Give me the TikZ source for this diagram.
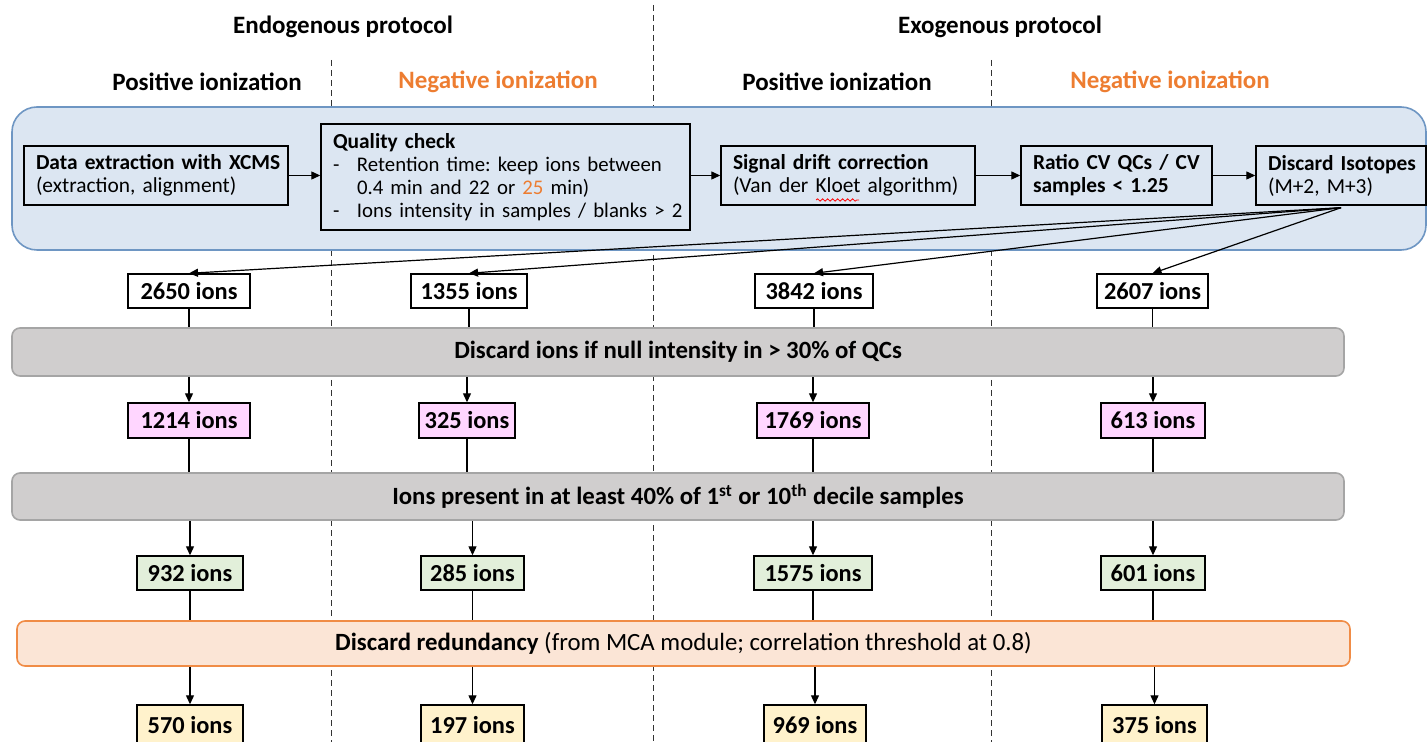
\documentclass[tikz,border=0pt]{standalone}
\usepackage{fontspec}
\setmainfont{Carlito}
\usetikzlibrary{arrows.meta,decorations.pathmorphing}
\definecolor{orng}{RGB}{237,125,49}
\definecolor{bluebg}{RGB}{220,230,242}
\definecolor{blueln}{RGB}{110,150,195}
\definecolor{grayfill}{RGB}{208,206,206}
\definecolor{grayln}{RGB}{165,165,165}
\definecolor{pinkfill}{RGB}{255,214,255}
\definecolor{greenfill}{RGB}{226,239,218}
\definecolor{yellowfill}{RGB}{255,242,204}
\definecolor{peachfill}{RGB}{251,229,214}
\definecolor{peachln}{RGB}{240,140,70}
\frenchspacing
\newcommand\qcfont{\fontsize{10.4}{11.5}\selectfont}
\begin{document}
\begin{tikzpicture}[x=0.5pt,y=-0.5pt,
  hdr/.style={font=\fontsize{12.5}{14}\selectfont\bfseries},
  stepbox/.style={draw=black, line width=0.7pt, align=left, inner xsep=6pt, inner ysep=2pt,
    font=\fontsize{10.7}{11.5}\selectfont, minimum height=29.5pt},
  ion/.style={draw=black, line width=0.7pt, minimum height=17pt, inner sep=0pt,
    font=\fontsize{12.2}{14}\selectfont\bfseries},
  bar/.style={rounded corners=4pt, line width=0.8pt, inner sep=0pt,
    font=\fontsize{12.4}{14}\selectfont},
  conn/.style={line width=0.6pt, black},
  arr/.style={line width=0.6pt, black, -{Triangle[length=4.5pt,width=4pt]}},
  vdash/.style={line width=0.5pt, black!80, dash pattern=on 3pt off 2pt},
  squiggle/.style={red, line width=0.4pt, decorate,
    decoration={snake, amplitude=0.6pt, segment length=2.5pt}}
]
\useasboundingbox (0,0) rectangle (1428,742);

% dashed separators
\draw[vdash] (331,60) -- (331,742);
\draw[vdash] (653,5) -- (653,742);
\draw[vdash] (991,60) -- (991,742);

% headers
\node[hdr] (hEndo) at (343,27) {Endogenous protocol};
\node[hdr] (hExo) at (1000,27) {Exogenous protocol};
\node[hdr] (h1) at (207,82) {Positive ionization};
\node[hdr, text=orng] (h2) at (498,82) {Negative ionization};
\node[hdr] (h3) at (837,82) {Positive ionization};
\node[hdr, text=orng] (h4) at (1170,82) {Negative ionization};

% blue processing region
\node[draw=blueln, fill=bluebg, line width=0.8pt, rounded corners=12.5pt,
  minimum width=707pt, minimum height=71.5pt, inner sep=0pt] (blue) at (719,178.5) {};

\node[stepbox, text width=120pt] (e1) at (156,175.5)
  {\mbox{\textbf{Data extraction with XCMS}}\\\mbox{(extraction, alignment)}};
\node[stepbox, text width=172.5pt, minimum height=53pt] (e2) at (505.5,177)
  {\mbox{\textbf{Quality check}}\\
   \mbox{\qcfont\makebox[12pt][l]{-}Retention time: keep ions between}\\
   \mbox{\qcfont\hspace*{12pt}0.4 min and 22 or \textcolor{orng}{25} min)}\\
   \mbox{\qcfont\makebox[12pt][l]{-}Ions intensity in samples / blanks > 2}};
\node[stepbox, text width=115pt] (e3) at (848,175.5)
  {\mbox{\textbf{Signal drift correction}}\\\mbox{(Van der Kloet algorithm)}};
\node[stepbox, text width=83.5pt] (e4) at (1116.5,175.5)
  {\mbox{\textbf{Ratio CV QCs / CV}}\\\mbox{\textbf{samples < 1.25}}};
\node[stepbox, text width=73pt] (e5) at (1341,175.5)
  {\mbox{\textbf{Discard Isotopes}}\\\mbox{(M+2, M+3)}};
\draw[squiggle] (816,200) -- (859,200);

\draw[arr] (e1.east) -- (e2.west |- e1.east);
\draw[arr] (e2.east |- e3.west) -- (e3.west);
\draw[arr] (e3.east) -- (e4.west);
\draw[arr] (e4.east) -- (e5.west);

% row 1
\node[ion, minimum width=61pt] (a1) at (189,291) {2650 ions};
\node[ion, minimum width=58pt] (a2) at (469,291) {1355 ions};
\node[ion, minimum width=59pt] (a3) at (814,291) {3842 ions};
\node[ion, minimum width=55.5pt] (a4) at (1152.5,291) {2607 ions};

\coordinate (src) at ([yshift=-1pt]e5.south);
\foreach \i in {1,...,4} \draw[arr] (src) -- (a\i.north);

% bar 1
\node[bar, draw=grayln, fill=grayfill, minimum width=666pt, minimum height=24pt] (bar1) at (678,352)
  {\textbf{Discard ions if null intensity in > 30\% of QCs}};

% row 2
\node[ion, fill=pinkfill, minimum width=61pt, minimum height=17.5pt] (b1) at (189,420.5) {1214 ions};
\node[ion, fill=pinkfill, minimum width=48pt, minimum height=17.5pt] (b2) at (467,420.5) {325 ions};
\node[ion, fill=pinkfill, minimum width=56pt, minimum height=17.5pt] (b3) at (813,420.5) {1769 ions};
\node[ion, fill=pinkfill, minimum width=52pt, minimum height=17.5pt] (b4) at (1153,420.5) {613 ions};

% bar 2
\node[bar, draw=grayln, fill=grayfill, minimum width=666pt, minimum height=23.5pt] (bar2) at (678,496.5)
  {\textbf{Ions present in at least 40\% of 1\textsuperscript{st} or 10\textsuperscript{th} decile samples}};

% row 3
\node[ion, fill=greenfill, minimum width=53pt] (c1) at (190,573) {932 ions};
\node[ion, fill=greenfill, minimum width=51.5pt] (c2) at (472.5,573) {285 ions};
\node[ion, fill=greenfill, minimum width=59pt] (c3) at (813,573) {1575 ions};
\node[ion, fill=greenfill, minimum width=52pt] (c4) at (1153,573) {601 ions};

% bar 3
\node[bar, draw=peachln, fill=peachfill, minimum width=666.5pt, minimum height=22.5pt] (bar3) at (683.5,643.5)
  {\textbf{Discard redundancy} (from MCA module; correlation threshold at 0.8)};

% row 4
\node[ion, fill=yellowfill, minimum width=53pt, minimum height=20pt] (d1) at (190,725) {570 ions};
\node[ion, fill=yellowfill, minimum width=51.5pt, minimum height=20pt] (d2) at (472.5,725) {197 ions};
\node[ion, fill=yellowfill, minimum width=51pt, minimum height=20pt] (d3) at (815,725) {969 ions};
\node[ion, fill=yellowfill, minimum width=52.5pt, minimum height=20pt] (d4) at (1154.5,725) {375 ions};

% vertical connectors
\foreach \i in {1,...,4} {
  \draw[conn] (a\i.south) -- (a\i.south |- bar1.north);
  \draw[arr] (b\i.north |- bar1.south) -- (b\i.north);
  \draw[conn] (b\i.south) -- (b\i.south |- bar2.north);
  \draw[arr] (c\i.north |- bar2.south) -- (c\i.north);
  \draw[conn] (c\i.south) -- (c\i.south |- bar3.north);
  \draw[arr] (d\i.north |- bar3.south) -- (d\i.north);
}
\end{tikzpicture}
\end{document}
